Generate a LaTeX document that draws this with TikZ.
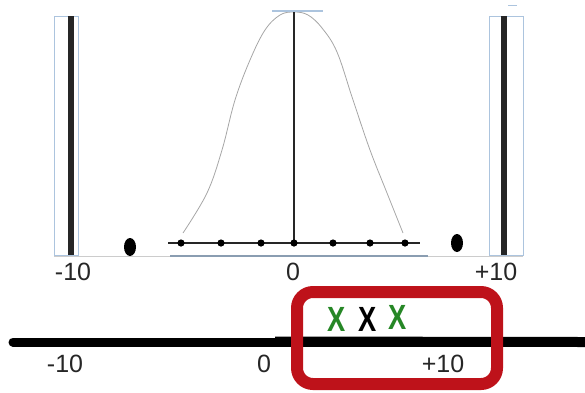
\documentclass[tikz,border=0pt]{standalone}
\usepackage{fontspec}
\setmainfont{Liberation Sans}
\usepackage{tikz}
\usetikzlibrary{positioning,calc}
\definecolor{capb}{RGB}{172,196,222}
\definecolor{boxr}{RGB}{190,18,26}
\definecolor{grn}{RGB}{38,135,38}
\newcommand{\sidebar}[3]{%
  \draw[capb,line width=0.9pt] (#1,16) rectangle (#2,255);
  \draw[black!85,line width=5.5pt] (#3,16) -- (#3,255);}

\begin{document}
\begin{tikzpicture}[x=1pt,y=-1pt,font=\fontsize{25}{29}\selectfont,
  lbl/.style={inner sep=0pt,text=black!85},
  xmark/.style={inner sep=0pt,font=\fontsize{35}{40}\selectfont\bfseries,xscale=0.78,transform shape}]
\useasboundingbox (0,0) rectangle (585,392);
% ---- top: the two end bars and the bell ----
\draw[gray!40,line width=0.5pt] (54,256) -- (523,256);
\sidebar{54}{78}{71}
\sidebar{489}{523}{504}
\draw[capb,line width=1pt] (508,5) -- (517,5);
\fill (130,247) ellipse [x radius=6,y radius=9];
\fill (457,243) ellipse [x radius=6,y radius=9];
\draw[gray!70,line width=0.8pt] plot[smooth,tension=0.6] coordinates {(183,233) (207,193) (222,150) (235,100) (250,60) (265,30) (280,15) (294,12) (308,15) (322,28) (337,52) (353,100) (370,150) (387,193) (403,233)};
\draw[capb,line width=2pt] (272,11) -- (323,11);
\coordinate (peak) at (294,12);
\coordinate (base) at (294,246);
\draw[black!85,line width=2.2pt] (peak) -- (base);
\draw[capb!80!black,line width=2pt] (170,256) -- (428,256);
\draw[black!85,line width=2.6pt] (168,243) -- (420,243);
\foreach \x in {181,221,261,294,333,370,405}
  \fill (\x,243) circle (3.6);
\node[lbl] (tm) at (73,272) {-10};
\node[lbl] (tz) at (293,272) {0};
\node[lbl] (tp) at (496,272) {+10};
% ---- bottom: number line with the box ----
\coordinate (ls) at (13,342);
\coordinate (le) at (585,342);
\draw[line width=9pt,line cap=round] (ls) -- (le);
\draw[line width=10pt] (275,341.5) -- (le);
\node[lbl] (bm) at (65,364) {-10};
\node[lbl] (bz) at (264,364) {0};
\node[lbl] (bp) at (443,364) {+10};
\draw[boxr,line width=12pt,rounded corners=16pt] (297,292) rectangle (497,384);
\node[xmark,text=grn] (x1) at (337,319) {X};
\node[xmark] (x2) at (368,319) {X};
\node[xmark,text=grn] (x3) at (398,317) {X};
\end{tikzpicture}
\end{document}
